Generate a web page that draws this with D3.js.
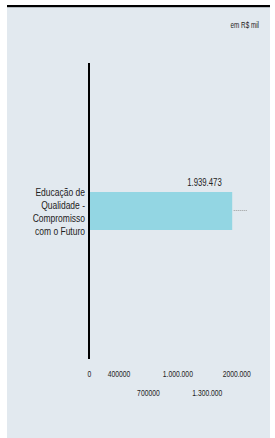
<!DOCTYPE html>
<html>
<head>
<meta charset="utf-8">
<script src="https://cdn.jsdelivr.net/npm/d3@7"></script>
<style>
  html, body { margin: 0; padding: 0; background: #ffffff; }
  svg { display: block; }
  text { font-family: "Liberation Sans Narrow", "Arial Narrow", "Liberation Sans", sans-serif; fill: #222; }
</style>
</head>
<body>
<svg id="chart" width="275" height="438"></svg>
<script>
// ---- data ----
const categories = ["Educação de Qualidade - Compromisso com o Futuro"];
const categoryLines = [["Educação de", "Qualidade -", "Compromisso", "com o Futuro"]];
const values = [1939473];
const valueLabels = ["1.939.473"];
const tickValues = [0, 400000, 700000, 1000000, 1300000, 2000000];
const tickLabels = ["0", "400000", "700000", "1.000.000", "1.300.000", "2000.000"];
const unitLabel = "em R$ mil";

// ---- layout ----
const panel = { x: 7, y: 7, w: 263, h: 431 };
const x0 = 89, tickStep = 29.45;
const plotTop = 63, plotBottom = 359;

const svg = d3.select("#chart");
const squeeze = (ax, k) => `translate(${ax},0) scale(${k},1) translate(${-ax},0)`;

// panel background and top rule
svg.append("rect").attr("x", panel.x).attr("y", panel.y)
  .attr("width", panel.w).attr("height", panel.h).attr("fill", "#e2e9ef");
svg.append("rect").attr("x", panel.x).attr("y", 5).attr("width", panel.w).attr("height", 2.2)
  .attr("fill", "#000");

// unit label
svg.append("text").attr("x", 259).attr("y", 28.5).attr("text-anchor", "end")
  .attr("transform", squeeze(259, 0.72))
  .style("font-size", "8.8px").text(unitLabel);

// scales: evenly spaced tick positions (piecewise linear)
const x = d3.scaleLinear()
  .domain(tickValues)
  .range(tickValues.map((d, i) => x0 + i * tickStep));

const p = 0.7724;
const y = d3.scaleBand().domain(categories).range([plotTop, plotBottom])
  .paddingInner(p).paddingOuter(p);

// bars
svg.selectAll("rect.bar").data(values).join("rect")
  .attr("class", "bar")
  .attr("x", x(0))
  .attr("y", (d, i) => y(categories[i]))
  .attr("width", d => x(d) - x(0) - 1.5)
  .attr("height", y.bandwidth())
  .attr("fill", "#93d6e3");

// dotted leader lines
svg.selectAll("line.leader").data(values).join("line")
  .attr("class", "leader")
  .attr("x1", d => x(d)).attr("x2", d => x(d) + 14)
  .attr("y1", (d, i) => y(categories[i]) + y.bandwidth() / 2 - 0.5)
  .attr("y2", (d, i) => y(categories[i]) + y.bandwidth() / 2 - 0.5)
  .attr("stroke", "#9a9a9a").attr("stroke-width", 1).attr("stroke-dasharray", "1,1");

// value labels
svg.selectAll("text.val").data(values).join("text")
  .attr("class", "val")
  .attr("x", d => x(d) - 12)
  .attr("y", (d, i) => y(categories[i]) - 5.5)
  .attr("text-anchor", "end")
  .attr("transform", d => squeeze(x(d) - 12, 0.76))
  .style("font-size", "10.2px")
  .text((d, i) => valueLabels[i]);

// category labels
const catG = svg.selectAll("text.cat").data(categories).join("text")
  .attr("class", "cat")
  .attr("text-anchor", "end")
  .attr("transform", squeeze(85, 0.72))
  .style("font-size", "11.8px");
catG.each(function (d, i) {
  const lines = categoryLines[i];
  const cy = y(d) + y.bandwidth() / 2;
  const lh = 12.8;
  const start = cy - (lines.length - 1) * lh / 2 + 4.5;
  d3.select(this).selectAll("tspan").data(lines).join("tspan")
    .attr("x", 85).attr("y", (l, j) => start + j * lh).text(l => l);
});

// x axis tick labels (staggered in two rows)
const rowOf = [0, 0, 1, 0, 1, 0];
const xAxis = d3.axisBottom(x).tickValues(tickValues)
  .tickFormat((d, i) => tickLabels[i]).tickSize(0).tickPadding(0);
const ax = svg.append("g").attr("transform", "translate(0,367)").call(xAxis);
ax.select(".domain").remove();
ax.selectAll(".tick text")
  .attr("dy", null)
  .attr("y", (d, i) => rowOf[i] ? 29 : 10.5)
  .attr("transform", "scale(0.72,1)")
  .attr("fill", "#222")
  .style("font-size", "9.4px")
  .style("font-family", "\"Liberation Sans Narrow\", \"Arial Narrow\", \"Liberation Sans\", sans-serif");

// vertical axis line
svg.append("line").attr("x1", x(0)).attr("x2", x(0))
  .attr("y1", plotTop).attr("y2", plotBottom)
  .attr("stroke", "#000").attr("stroke-width", 2);
</script>
</body>
</html>
